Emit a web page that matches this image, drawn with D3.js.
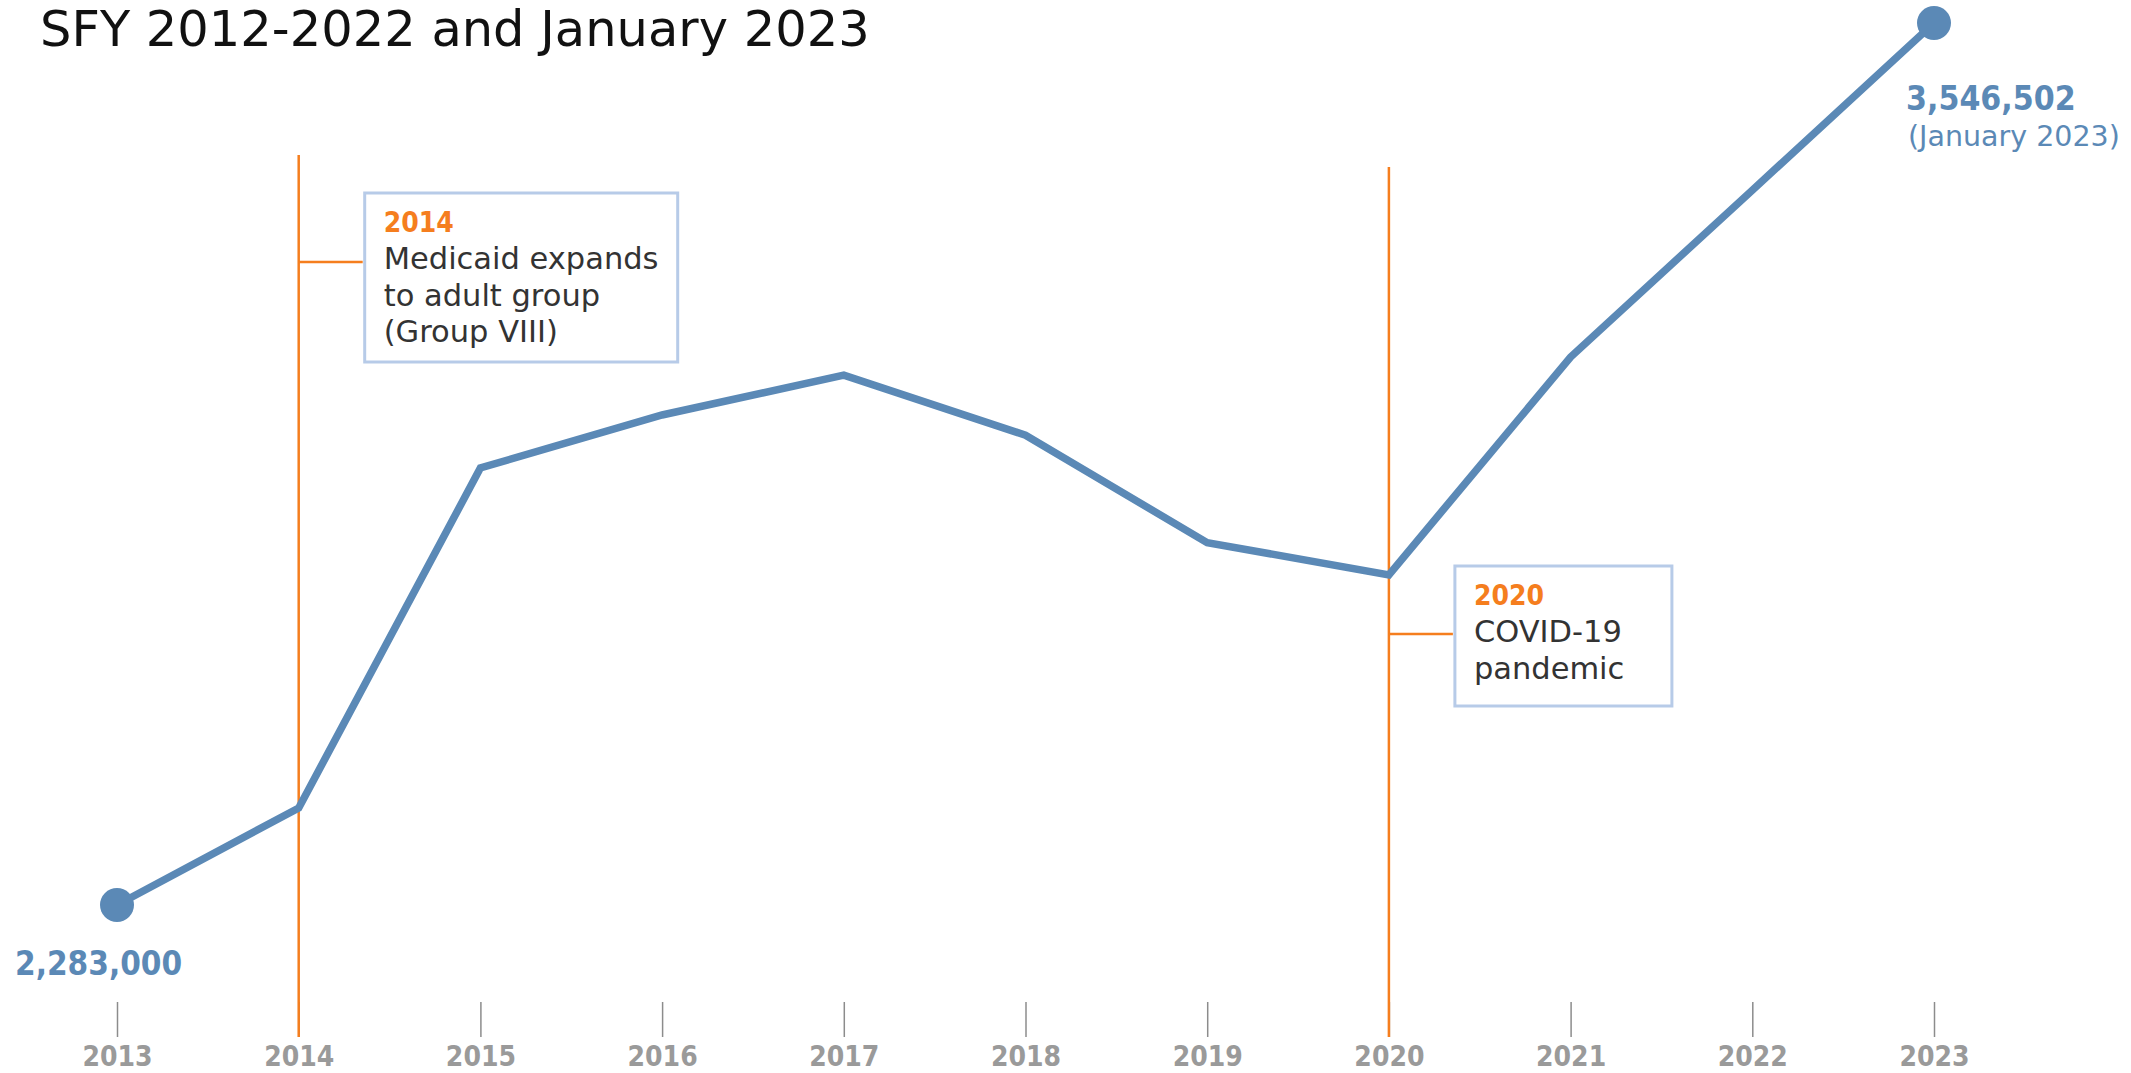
<!DOCTYPE html>
<html>
<head>
<meta charset="utf-8">
<script src="https://cdn.jsdelivr.net/npm/d3@7"></script>
<style>
  html, body { margin: 0; padding: 0; background: #ffffff; }
  svg { display: block; }
  text { font-family: "DejaVu Sans", "Noto Sans", sans-serif; }
  .cond { font-family: "DejaVu Sans Condensed", "DejaVu Sans", sans-serif; font-stretch: condensed; }
</style>
</head>
<body>
<svg id="chart" width="2131" height="1073"></svg>
<script>
// Medicaid enrollment, SFY 2013-2022 and January 2023
const years = [2013, 2014, 2015, 2016, 2017, 2018, 2019, 2020, 2021, 2022, 2023];
const enrollment = [2283000, 2422000, 2909000, 2985000, 3042000, 2956000, 2802000, 2756000, 3068000, 3307000, 3546502];
const tickLabels = ["2013", "2014", "2015", "2016", "2017", "2018", "2019", "2020", "2021", "2022", "2023"];
const titleText = "SFY 2012-2022 and January 2023";
const startLabel = "2,283,000";
const endLabel = "3,546,502";
const endNote = "(January 2023)";
const eventYears = [2014, 2020];
const eventHeads = ["2014", "2020"];
const eventLines = [["Medicaid expands", "to adult group", "(Group VIII)"], ["COVID-19", "pandemic"]];

const BLUE = "#5b89b6";
const ORANGE = "#f57e1e";
const BOX = "#b7cbe8";
const GREY = "#9a9a9a";

const svg = d3.select("#chart");

const x = d3.scaleLinear().domain([2013, 2023]).range([117, 1934]);
const y = d3.scaleLinear().domain([2283000, 3546502]).range([905, 23]);

// title
svg.append("text")
  .attr("x", 40).attr("y", 46)
  .attr("font-size", 49.5)
  .attr("fill", "#111")
  .text(titleText);

// year axis: short ticks sitting above the labels, no domain line
const axisY = 1037;
const axis = d3.axisBottom(x)
  .tickValues(years)
  .tickFormat((d, i) => tickLabels[i])
  .tickSize(-35)
  .tickPadding(9);
const gAxis = svg.append("g").attr("transform", `translate(0,${axisY})`).call(axis);
gAxis.select(".domain").remove();
gAxis.selectAll(".tick line").attr("stroke", "#8c8c8c").attr("stroke-width", 1.5);
gAxis.selectAll(".tick text")
  .attr("class", "cond")
  .attr("fill", GREY)
  .attr("font-size", 28)
  .attr("font-weight", "bold")
  .attr("font-family", null);

// event markers: vertical rule, connector and captioned box
const eventTops = [155, 167];
const connectorY = [262, 634];
const boxes = [
  { dx: 66, top: 193, w: 313, h: 169 },
  { dx: 66, top: 566, w: 217, h: 140 }
];
eventYears.forEach((yr, i) => {
  const ex = x(yr);
  const g = svg.append("g");
  g.append("line")
    .attr("x1", ex).attr("x2", ex)
    .attr("y1", eventTops[i]).attr("y2", axisY)
    .attr("stroke", ORANGE).attr("stroke-width", 2.5);
  const b = boxes[i];
  g.append("line")
    .attr("x1", ex).attr("x2", ex + b.dx - 2)
    .attr("y1", connectorY[i]).attr("y2", connectorY[i])
    .attr("stroke", ORANGE).attr("stroke-width", 2.5);
  g.append("rect")
    .attr("x", ex + b.dx).attr("y", b.top)
    .attr("width", b.w).attr("height", b.h)
    .attr("fill", "#fff")
    .attr("stroke", BOX).attr("stroke-width", 3);
  const tx = ex + b.dx + 19;
  g.append("text")
    .attr("class", "cond")
    .attr("x", tx).attr("y", b.top + 39)
    .attr("font-size", 28).attr("font-weight", "bold")
    .attr("fill", ORANGE)
    .text(eventHeads[i]);
  eventLines[i].forEach((ln, j) => {
    g.append("text")
      .attr("x", tx).attr("y", b.top + 76 + j * 36.5)
      .attr("font-size", 30.5)
      .attr("fill", "#333")
      .text(ln);
  });
});

// enrollment line
const data = years.map((yr, i) => ({ year: yr, value: enrollment[i] }));
const line = d3.line().x(d => x(d.year)).y(d => y(d.value));
svg.append("path")
  .datum(data)
  .attr("d", line)
  .attr("fill", "none")
  .attr("stroke", BLUE)
  .attr("stroke-width", 7.5)
  .attr("stroke-linejoin", "miter");

// end points
const ends = [data[0], data[data.length - 1]];
svg.selectAll("circle.end")
  .data(ends)
  .join("circle")
  .attr("class", "end")
  .attr("cx", d => x(d.year))
  .attr("cy", d => y(d.value))
  .attr("r", 17)
  .attr("fill", BLUE);

// value labels at both ends
svg.append("text")
  .attr("class", "cond")
  .attr("x", 15).attr("y", y(enrollment[0]) + 70)
  .attr("font-size", 33).attr("font-weight", "bold")
  .attr("fill", BLUE)
  .text(startLabel);
svg.append("text")
  .attr("class", "cond")
  .attr("x", x(2023) - 28).attr("y", y(enrollment[enrollment.length - 1]) + 87)
  .attr("font-size", 33.5).attr("font-weight", "bold")
  .attr("fill", BLUE)
  .text(endLabel);
svg.append("text")
  .attr("x", x(2023) - 26).attr("y", y(enrollment[enrollment.length - 1]) + 123)
  .attr("font-size", 28.5)
  .attr("fill", BLUE)
  .text(endNote);
</script>
</body>
</html>
